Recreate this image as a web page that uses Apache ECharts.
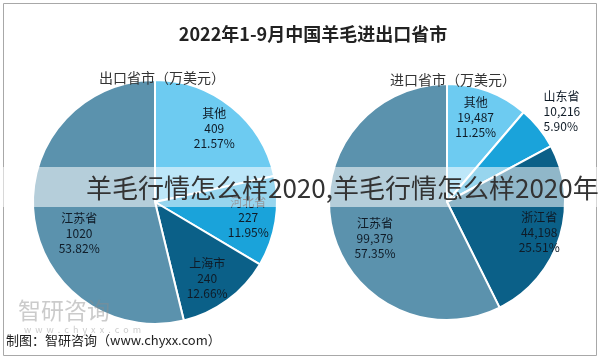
<!DOCTYPE html>
<html><head><meta charset="utf-8">
<script src="https://cdn.jsdelivr.net/npm/echarts@6/dist/echarts.min.js"></script>
<style>html,body{margin:0;padding:0;background:#fff}#c{width:600px;height:361px}</style>
</head><body><div id="c"></div>
<script>
const chartTitle = '2022年1-9月中国羊毛进出口省市';
const exportTitle = '出口省市（万美元）';
const importTitle = '进口省市（万美元）';
const exportNames = ['其他', '河北省', '上海市', '江苏省'];
const exportValues = [409, 227, 240, 1020];
const exportValueLabels = ['409', '227', '240', '1020'];
const exportPercents = ['21.57%', '11.95%', '12.66%', '53.82%'];
const importNames = ['其他', '山东省', '浙江省', '江苏省'];
const importValues = [19487, 10216, 44198, 99379];
const importValueLabels = ['19,487', '10,216', '44,198', '99,379'];
const importPercents = ['11.25%', '5.90%', '25.51%', '57.35%'];
const sliceColors = ['#6dcbf1', '#1aa3da', '#0b6088', '#5b92ad'];
const overlayText = '羊毛行情怎么样2020,羊毛行情怎么样2020年';
const sourceText = '制图：智研咨询（www.chyxx.com）';
const watermarkText = '智研咨询';
const watermarkUrl = 'w  w  w  .  c  h  y  x  x  .  c  o  m';

const FONT = '"Noto Sans CJK SC", "Noto Sans", sans-serif';

// label nudges (styling only)
const exportLabelOffsets = [[0, 0], [0, 0], [-4, 0], [18, 20]];
const importLabelOffsets = [[-3, 1], [-8, -10], [5, 3], [17, 15]];

function pieData(names, values) {
  return names.map((n, i) => ({ name: n, value: values[i], itemStyle: { color: sliceColors[i] } }));
}
function labelData(names, values, valueLabels, percents, offsets, outsideIdx) {
  return names.map((n, i) => {
    const d = {
      name: n, value: values[i],
      label: { formatter: n + '\n' + valueLabels[i] + '\n' + percents[i], offset: offsets[i] }
    };
    if (i === outsideIdx) {
      d.label.position = 'outside';
      d.label.align = 'left';
      d.labelLine = { show: false, length: 10, length2: 0 };
    }
    return d;
  });
}
const labelStyle = { show: true, position: 'inside', color: '#0f1b27', fontSize: 12, lineHeight: 15, fontFamily: FONT, textBorderWidth: 0 };

const chart = echarts.init(document.getElementById('c'), null, { renderer: 'canvas' });
chart.setOption({
  backgroundColor: '#fff',
  animation: false,
  title: [
    { text: chartTitle, left: 308, textAlign: 'center', top: 20, textStyle: { fontSize: 18, fontWeight: 'bold', color: '#222', fontFamily: FONT } },
    { text: exportTitle, left: 157, textAlign: 'center', top: 66, textStyle: { fontSize: 14, fontWeight: 'normal', color: '#333', fontFamily: FONT } },
    { text: importTitle, left: 448, textAlign: 'center', top: 68, textStyle: { fontSize: 14, fontWeight: 'normal', color: '#333', fontFamily: FONT } }
  ],
  series: [
    {
      type: 'pie', center: [155, 202], radius: [0, 122], startAngle: 90, clockwise: true,
      label: { show: false }, labelLine: { show: false }, emphasis: { disabled: true }, silent: true,
      itemStyle: { borderColor: '#fff', borderWidth: 2 },
      data: pieData(exportNames, exportValues), z: 2
    },
    {
      type: 'pie', center: [155, 202], radius: [61, 122], startAngle: 90, clockwise: true,
      label: labelStyle, labelLine: { show: false }, emphasis: { disabled: true }, silent: true,
      avoidLabelOverlap: false,
      itemStyle: { color: 'rgba(0,0,0,0)', borderWidth: 0 },
      data: labelData(exportNames, exportValues, exportValueLabels, exportPercents, exportLabelOffsets, -1), z: 3
    },
    {
      type: 'pie', center: [447, 202], radius: [0, 118], startAngle: 90, clockwise: true,
      label: { show: false }, labelLine: { show: false }, emphasis: { disabled: true }, silent: true,
      itemStyle: { borderColor: '#fff', borderWidth: 2 },
      data: pieData(importNames, importValues), z: 2
    },
    {
      type: 'pie', center: [447, 202], radius: [59, 118], startAngle: 90, clockwise: true,
      label: labelStyle, labelLine: { show: false }, emphasis: { disabled: true }, silent: true,
      avoidLabelOverlap: false,
      itemStyle: { color: 'rgba(0,0,0,0)', borderWidth: 0 },
      data: labelData(importNames, importValues, importValueLabels, importPercents, importLabelOffsets, 1), z: 3
    }
  ],
  graphic: [
    { type: 'rect', z: 1, silent: true, shape: { x: 3.5, y: 3.5, width: 593, height: 352 }, style: { fill: 'none', stroke: '#a8a8a8', lineWidth: 1 } },
    { type: 'text', z: 50, silent: true, left: 18, top: 299, style: { text: watermarkText, font: '23px ' + FONT, fill: 'rgba(140,140,140,0.45)' } },
    { type: 'text', z: 50, silent: true, left: 24, top: 325, style: { text: watermarkUrl, font: '9px ' + FONT, fill: 'rgba(140,140,140,0.45)' } },
    { type: 'text', z: 50, silent: true, left: 6, top: 334, style: { text: sourceText, font: '13px ' + FONT, fill: '#222' } },
    { type: 'rect', z: 100, silent: true, shape: { x: 0, y: 167, width: 600, height: 40 }, style: { fill: 'rgba(255,255,255,0.55)' } },
    { type: 'text', z: 101, silent: true, x: 86, y: 188, style: { text: overlayText, font: '26px ' + FONT, fill: '#333', verticalAlign: 'middle', align: 'left' } }
  ]
});
</script>
</body></html>
